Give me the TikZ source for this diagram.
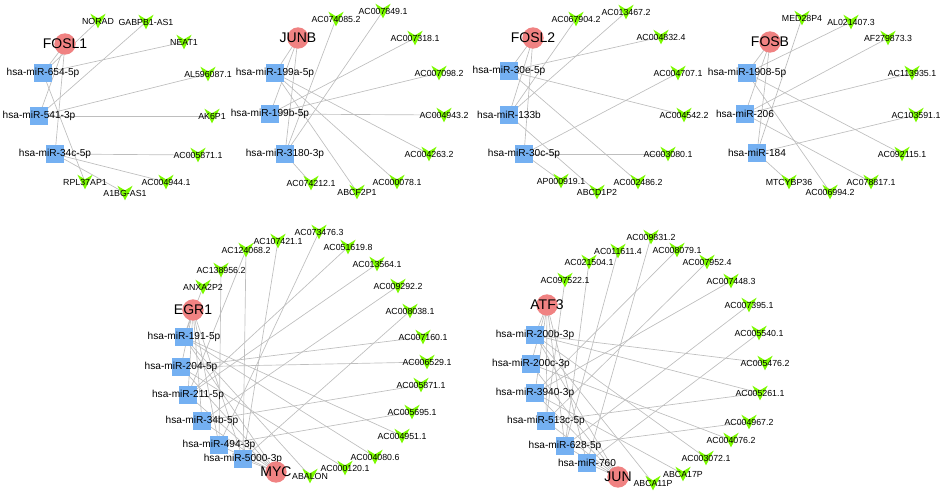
\documentclass[tikz,border=0pt]{standalone}
\usepackage{fontspec}
\setmainfont{Liberation Sans}
\usetikzlibrary{backgrounds}
\definecolor{tfred}{RGB}{240,130,130}
\definecolor{mirblue}{RGB}{116,176,242}
\definecolor{lncgreen}{RGB}{124,250,0}
\definecolor{linkgray}{RGB}{190,190,190}
\tikzset{tf/.style = {circle, fill=tfred, inner sep=0, minimum size=16pt,
    label={[font=\fontsize{10.5}{12}\selectfont]center:#1}}}
\tikzset{mir/.style = {rectangle, fill=mirblue, inner sep=0, minimum size=13.5pt,
    label={[font=\fontsize{7.6}{9}\selectfont]center:#1}}}
\tikzset{lnc/.style = {rectangle, inner sep=0, minimum width=11.5pt, minimum height=11pt,
    path picture={\fill[lncgreen] (path picture bounding box.north west)
      -- ([yshift=-3.5pt]path picture bounding box.north) -- (path picture bounding box.north east)
      -- (path picture bounding box.south) -- cycle;},
    label={[font=\fontsize{6.6}{8}\selectfont]center:#1}}}
\tikzset{link/.style = {draw=linkgray, line width=0.5pt}}

\begin{document}
\begin{tikzpicture}[x=0.75pt, y=-0.75pt]
          \useasboundingbox (0, 0) rectangle (941, 494);

          \node [tf=FOSL1] (fosl1) at (65, 44) {};
          \node [mir=hsa-miR-654-5p] (m654) at (43, 73) {};
          \node [mir=hsa-miR-541-3p] (m541) at (39, 116) {};
          \node [mir=hsa-miR-34c-5p] (m34c) at (55, 154) {};
          \node [lnc=NORAD] (norad) at (98, 21) {};
          \node [lnc=GABPB1-AS1] (gabpb) at (146, 22) {};
          \node [lnc=NEAT1] (neat) at (184, 42) {};
          \node [lnc=AL596087.1] (al596) at (208, 74) {};
          \node [lnc=AK6P1] (ak6) at (212, 116) {};
          \node [lnc=AC005871.1] (ac5871a) at (198, 155) {};
          \node [lnc=AC004944.1] (ac4944) at (166, 182) {};
          \node [lnc=A1BG-AS1] (a1bg) at (125, 193) {};
          \node [lnc=RPL37AP1] (rpl37) at (85, 182) {};

          \node [tf=JUNB] (junb) at (298, 38) {};
          \node [mir=hsa-miR-199a-5p] (m199a) at (275, 73) {};
          \node [mir=hsa-miR-199b-5p] (m199b) at (270, 114) {};
          \node [mir=hsa-miR-3180-3p] (m3180) at (285, 154) {};
          \node [lnc=AC074085.2] (ac74085) at (336, 19) {};
          \node [lnc=AC007849.1] (ac7849) at (383, 11) {};
          \node [lnc=AC007318.1] (ac7318) at (415, 38) {};
          \node [lnc=AC007098.2] (ac7098) at (439, 73) {};
          \node [lnc=AC004943.2] (ac4943) at (444, 115) {};
          \node [lnc=AC004263.2] (ac4263) at (429, 154) {};
          \node [lnc=AC000078.1] (ac78) at (397, 182) {};
          \node [lnc=ABCF2P1] (abcf2) at (357, 192) {};
          \node [lnc=AC074212.1] (ac74212) at (311, 183) {};

          \node [tf=FOSL2] (fosl2) at (533, 38) {};
          \node [mir=hsa-miR-30e-5p] (m30e) at (509, 71) {};
          \node [mir=hsa-miR-133b] (m133b) at (509, 115) {};
          \node [mir=hsa-miR-30c-5p] (m30c) at (524, 154) {};
          \node [lnc=AC067904.2] (ac67904) at (576, 19) {};
          \node [lnc=AC013467.2] (ac13467) at (626, 12) {};
          \node [lnc=AC004832.4] (ac4832) at (661, 37) {};
          \node [lnc=AC004707.1] (ac4707) at (678, 73) {};
          \node [lnc=AC004542.2] (ac4542) at (684, 115) {};
          \node [lnc=AC003080.1] (ac3080) at (668, 154) {};
          \node [lnc=AC002486.2] (ac2486) at (638, 182) {};
          \node [lnc=ABCD1P2] (abcd1) at (597, 192) {};
          \node [lnc=AP000919.1] (ap919) at (561, 181) {};

          \node [tf=FOSB] (fosb) at (770, 42) {};
          \node [mir=hsa-miR-1908-5p] (m1908) at (747, 73) {};
          \node [mir=hsa-miR-206] (m206) at (745, 114) {};
          \node [mir=hsa-miR-184] (m184) at (757, 153) {};
          \node [lnc=MED28P4] (med28) at (802, 18) {};
          \node [lnc=AL021407.3] (al21407) at (851, 22) {};
          \node [lnc=AF279873.3] (af279) at (888, 38) {};
          \node [lnc=AC113935.1] (ac113) at (912, 73) {};
          \node [lnc=AC103591.1] (ac103) at (916, 115) {};
          \node [lnc=AC092115.1] (ac92115) at (902, 154) {};
          \node [lnc=AC078817.1] (ac78817) at (871, 182) {};
          \node [lnc=AC006994.2] (ac6994) at (830, 192) {};
          \node [lnc=MTCYBP36] (mtcy) at (789, 182) {};

          \node [tf=EGR1] (egr1) at (193, 310) {};
          \node [mir=hsa-miR-191-5p] (m191) at (184, 337) {};
          \node [mir=hsa-miR-204-5p] (m204) at (181, 367) {};
          \node [mir=hsa-miR-211-5p] (m211) at (188, 395) {};
          \node [mir=hsa-miR-34b-5p] (m34b) at (202, 421) {};
          \node [mir=hsa-miR-494-3p] (m494) at (219, 445) {};
          \node [mir=hsa-miR-5000-3p] (m5000) at (243, 459) {};
          \node [tf=MYC] (myc) at (276, 472) {};
          \node [lnc=ANXA2P2] (anxa) at (203, 287) {};
          \node [lnc=AC138956.2] (ac138) at (221, 270) {};
          \node [lnc=AC124068.2] (ac124) at (246, 250) {};
          \node [lnc=AC107421.1] (ac107) at (278, 241) {};
          \node [lnc=AC073476.3] (ac73476) at (319, 232) {};
          \node [lnc=AC051619.8] (ac51619) at (348, 247) {};
          \node [lnc=AC013564.1] (ac13564) at (377, 264) {};
          \node [lnc=AC009292.2] (ac9292) at (398, 286) {};
          \node [lnc=AC008038.1] (ac8038) at (410, 311) {};
          \node [lnc=AC007160.1] (ac7160) at (423, 337) {};
          \node [lnc=AC006529.1] (ac6529) at (427, 362) {};
          \node [lnc=AC005871.1] (ac5871b) at (421, 385) {};
          \node [lnc=AC005695.1] (ac5695) at (412, 412) {};
          \node [lnc=AC004951.1] (ac4951) at (402, 436) {};
          \node [lnc=AC004080.6] (ac4080) at (375, 457) {};
          \node [lnc=AC000120.1] (ac120) at (345, 468) {};
          \node [lnc=ABALON] (abalon) at (310, 476) {};

          \node [tf=ATF3] (atf3) at (547, 305) {};
          \node [mir=hsa-miR-200b-3p] (m200b) at (535, 335) {};
          \node [mir=hsa-miR-200c-3p] (m200c) at (531, 364) {};
          \node [mir=hsa-miR-3940-3p] (m3940) at (535, 393) {};
          \node [mir=hsa-miR-513c-5p] (m513c) at (546, 421) {};
          \node [mir=hsa-miR-628-5p] (m628) at (565, 446) {};
          \node [mir=hsa-miR-760] (m760) at (587, 463) {};
          \node [tf=JUN] (jun) at (618, 477) {};
          \node [lnc=ABCA11P] (abca11) at (653, 483) {};
          \node [lnc=ABCA17P] (abca17) at (683, 474) {};
          \node [lnc=AC003072.1] (ac3072) at (706, 458) {};
          \node [lnc=AC004076.2] (ac4076) at (731, 440) {};
          \node [lnc=AC004967.2] (ac4967) at (749, 422) {};
          \node [lnc=AC005261.1] (ac5261) at (760, 393) {};
          \node [lnc=AC005476.2] (ac5476) at (765, 363) {};
          \node [lnc=AC005540.1] (ac5540) at (759, 333) {};
          \node [lnc=AC007395.1] (ac7395) at (749, 305) {};
          \node [lnc=AC007448.3] (ac7448) at (731, 281) {};
          \node [lnc=AC007952.4] (ac7952) at (707, 262) {};
          \node [lnc=AC008079.1] (ac8079) at (677, 250) {};
          \node [lnc=AC009831.2] (ac9831) at (651, 237) {};
          \node [lnc=AC011611.4] (ac11611) at (618, 251) {};
          \node [lnc=AC021504.1] (ac21504) at (589, 262) {};
          \node [lnc=AC097522.1] (ac97522) at (565, 280) {};

          \begin{scope}[on background layer]
            \foreach \a/\b in {fosl1/m654, fosl1/m541, fosl1/m34c, norad/m654, gabpb/m541,
                neat/m654, al596/m541, ak6/m541, ac5871a/m34c, ac4944/m34c, a1bg/m34c, rpl37/m654,
                junb/m199a, junb/m199b, junb/m3180, ac74085/m3180, ac7849/m3180, ac7318/m199b,
                ac7098/m199b, ac4943/m199b, ac4263/m199a, ac78/m199a, abcf2/m199a, ac74212/m3180,
                fosl2/m30e, fosl2/m133b, fosl2/m30c, ac67904/m133b, ac13467/m133b, ac4832/m30e,
                ac4707/m30c, ac4542/m30e, ac3080/m30c, ac2486/m30e, abcd1/m133b, ap919/m30c,
                fosb/m1908, fosb/m206, fosb/m184, med28/m184, al21407/m1908, af279/m206,
                ac113/m206, ac103/m184, ac92115/m1908, ac78817/m206, ac6994/m1908, mtcy/m184}
              \draw [link] (\a.center) -- (\b.center);
            \foreach \m in {m191, m204, m211, m34b, m494, m5000}
              \draw [link] (egr1.center) -- (\m.center) (myc.center) -- (\m.center);
            \foreach \a/\b in {anxa/m191, ac138/m494, ac124/m5000, ac124/m211, ac107/m5000,
                ac73476/m494, ac51619/m211, ac13564/m211, ac9292/m34b, ac8038/m5000, ac7160/m204,
                ac6529/m204, ac5871b/m34b, ac5695/m494, ac4951/m191, ac4080/m191, ac120/m204,
                abalon/m191}
              \draw [link] (\a.center) -- (\b.center);
            \foreach \m in {m200b, m200c, m3940, m513c, m628, m760}
              \draw [link] (atf3.center) -- (\m.center) (jun.center) -- (\m.center);
            \foreach \a/\b in {ac97522/m513c, ac21504/m628, ac11611/m628, ac9831/m760,
                ac8079/m3940, ac7952/m513c, ac7448/m3940, ac7395/m628, ac5540/m760, ac5476/m200b,
                ac5261/m200b, ac5261/m513c, ac4967/m628, ac4076/m200c, ac3072/m200b,
                abca17/m3940, abca11/m200b}
              \draw [link] (\a.center) -- (\b.center);
          \end{scope}
        \end{tikzpicture}
\end{document}
